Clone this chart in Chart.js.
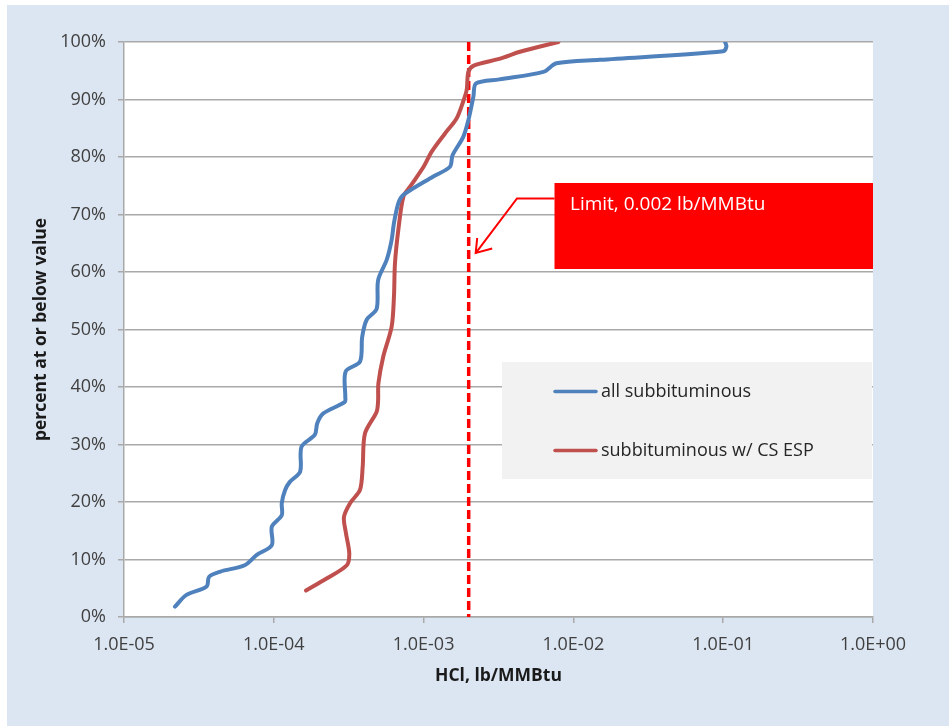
<!DOCTYPE html>
<html>
<head>
<meta charset="utf-8">
<script src="https://cdn.jsdelivr.net/npm/chart.js@4.4.1/dist/chart.umd.min.js"></script>
<style>
  html, body { margin: 0; padding: 0; background: #ffffff; }
  canvas { display: block; }
</style>
</head>
<body>
<canvas id="chart" width="949" height="726"></canvas>
<script>
// Cumulative distribution of HCl emission rates (lb/MMBtu)
const decadeTicks = [1e-5, 1e-4, 1e-3, 1e-2, 1e-1, 1];
const seriesNames = ['all subbituminous', 'subbituminous w/ CS ESP'];

const allSubHcl = [2.19e-5, 2.6e-5, 3.56e-5, 3.7e-5, 4.4e-5, 6.4e-5, 7.7e-5, 9.7e-5, 9.7e-5,
  1.13e-4, 1.13e-4, 1.19e-4, 1.28e-4, 1.5e-4, 1.53e-4, 1.88e-4, 1.95e-4, 2.14e-4, 2.98e-4,
  3.0e-4, 3.02e-4, 3.76e-4, 3.89e-4, 4.17e-4, 4.86e-4, 4.97e-4, 5.67e-4, 6.12e-4, 6.34e-4,
  6.77e-4, 7.33e-4, 1.16e-3, 1.5e-3, 1.56e-3, 1.84e-3, 1.99e-3, 2.15e-3, 2.24e-3, 3.2e-3,
  6.3e-3, 7.7e-3, 1.5e-2, 0.1, 0.105, 0.103];
const allSubPct = [1.8, 3.8, 5.3, 7.0, 7.9, 9.0, 10.8, 12.5, 15.7,
  17.7, 19.8, 22.1, 23.5, 25.3, 29.6, 31.7, 33.7, 35.4, 37.4,
  38.3, 42.7, 44.4, 48.7, 51.7, 53.6, 58.6, 62.1, 65.6, 68.5,
  71.9, 73.4, 76.6, 78.3, 80.3, 83.5, 86.4, 90.5, 92.8, 93.5,
  94.8, 96.3, 96.9, 98.4, 99.2, 100];

const espHcl = [1.64e-4, 2.25e-4, 3.07e-4, 3.19e-4, 3.03e-4, 2.94e-4, 3.23e-4, 3.76e-4, 3.92e-4,
  4.06e-4, 4.86e-4, 4.97e-4, 4.99e-4, 5.38e-4, 6.12e-4, 6.34e-4, 6.44e-4, 6.78e-4, 7.33e-4,
  8.1e-4, 1.0e-3, 1.13e-3, 1.39e-3, 1.66e-3, 1.84e-3, 1.94e-3, 1.99e-3, 2.16e-3, 3.24e-3,
  4.4e-3, 7.94e-3];
const espPct = [4.6, 6.7, 9.0, 11.1, 14.6, 17.4, 19.8, 22.1, 26.1,
  31.9, 35.7, 37.7, 40.6, 45.3, 50.5, 55.7, 61.5, 67.3, 73.1,
  74.8, 78.3, 80.9, 84.1, 86.7, 89.7, 91.7, 94.8, 95.9, 97.1,
  98.3, 100];

const limitHcl = 0.002;
const limitLabel = 'Limit, 0.002 lb/MMBtu';

const FONT = "'Open Sans', 'DejaVu Sans', sans-serif";
const BLUE = '#4f81bd';
const RED = '#c0504d';
const GRID = '#a9a9a9';

function pairs(xs, ys) {
  return xs.map((x, i) => ({ x: x, y: ys[i] }));
}

function sciLabel(v) {
  const e = Math.round(Math.log10(v));
  const sign = e < 0 ? '-' : '+';
  const mag = String(Math.abs(e)).padStart(2, '0');
  return '1.0E' + sign + mag;
}

// page frame, panel and white plot area
const framePlugin = {
  id: 'frame',
  beforeDraw(chart) {
    const { ctx, chartArea: a } = chart;
    ctx.save();
    ctx.fillStyle = '#ffffff';
    ctx.fillRect(0, 0, chart.width, chart.height);
    ctx.fillStyle = '#dce6f2';
    ctx.fillRect(7, 5, chart.width - 7, chart.height - 5);
    ctx.fillStyle = '#ffffff';
    ctx.fillRect(a.left, a.top, a.right - a.left, a.bottom - a.top);
    ctx.restore();
  }
};

// legend panel inside the plot area
const legendPanel = {
  id: 'legendPanel',
  beforeDatasetsDraw(chart) {
    const { ctx } = chart;
    ctx.save();
    ctx.fillStyle = '#f2f2f2';
    ctx.fillRect(502, 362, 370, 117);
    const rows = [391.5, 450.5];
    [0, 1].forEach((i) => {
      const ds = chart.data.datasets[i];
      ctx.strokeStyle = ds.borderColor;
      ctx.lineWidth = 3.5;
      ctx.lineCap = 'round';
      ctx.beginPath();
      ctx.moveTo(555, rows[i]);
      ctx.lineTo(596, rows[i]);
      ctx.stroke();
      ctx.fillStyle = '#262626';
      ctx.font = '18px ' + FONT;
      ctx.textAlign = 'left';
      ctx.textBaseline = 'middle';
      ctx.fillText(ds.label, 601, rows[i]);
    });
    ctx.restore();
  }
};

// red callout pointing at the limit line
const limitCallout = {
  id: 'limitCallout',
  afterDatasetsDraw(chart) {
    const { ctx, chartArea: a, scales } = chart;
    const lx = scales.x.getPixelForValue(limitHcl);
    const tipX = lx + 7;
    const tipY = scales.y.getPixelForValue(63.3);
    const boxL = 554.5, boxT = 183, boxB = 269;
    ctx.save();
    ctx.fillStyle = '#ff0000';
    ctx.fillRect(boxL, boxT, a.right - boxL, boxB - boxT);
    ctx.fillStyle = '#ffffff';
    ctx.font = '19px ' + FONT;
    ctx.textAlign = 'left';
    ctx.textBaseline = 'alphabetic';
    ctx.fillText(limitLabel, 570, 210);
    ctx.strokeStyle = '#ff0000';
    ctx.lineWidth = 2;
    ctx.lineJoin = 'miter';
    ctx.beginPath();
    ctx.moveTo(boxL, 198.5);
    ctx.lineTo(517, 198.5);
    ctx.lineTo(tipX, tipY);
    ctx.stroke();
    ctx.beginPath();
    ctx.moveTo(tipX + 1.5, tipY - 15);
    ctx.lineTo(tipX, tipY);
    ctx.lineTo(tipX + 16.5, tipY - 4.5);
    ctx.stroke();
    ctx.restore();
  }
};

Chart.defaults.font.family = FONT;

new Chart(document.getElementById('chart'), {
  type: 'scatter',
  data: {
    datasets: [
      {
        label: seriesNames[0],
        data: pairs(allSubHcl, allSubPct),
        showLine: true,
        borderColor: BLUE,
        backgroundColor: BLUE,
        borderWidth: 4,
        pointRadius: 0,
        tension: 0.3,
        borderCapStyle: 'round',
        borderJoinStyle: 'round'
      },
      {
        label: seriesNames[1],
        data: pairs(espHcl, espPct),
        showLine: true,
        borderColor: RED,
        backgroundColor: RED,
        borderWidth: 4,
        pointRadius: 0,
        tension: 0.3,
        borderCapStyle: 'round',
        borderJoinStyle: 'round'
      },
      {
        label: 'limit',
        data: [{ x: limitHcl, y: 100 }, { x: limitHcl, y: 0 }],
        showLine: true,
        borderColor: '#ff0000',
        borderWidth: 3.5,
        borderDash: [9, 4],
        pointRadius: 0,
        tension: 0
      }
    ]
  },
  options: {
    responsive: false,
    animation: false,
    devicePixelRatio: 1,
    layout: { padding: { top: 42, right: 76, left: 0, bottom: 0 } },
    plugins: {
      legend: { display: false },
      tooltip: { enabled: false },
      title: { display: false }
    },
    scales: {
      x: {
        type: 'logarithmic',
        min: 1e-5,
        max: 1,
        afterBuildTicks(scale) {
          scale.ticks = decadeTicks.map((v) => ({ value: v, major: true }));
        },
        afterFit(scale) { scale.height = 109; },
        ticks: {
          autoSkip: false,
          maxRotation: 0,
          padding: 11,
          color: '#404040',
          font: { size: 18 },
          callback: (v) => sciLabel(v)
        },
        grid: {
          drawOnChartArea: false,
          drawTicks: true,
          tickLength: 6,
          color: GRID,
          lineWidth: 1.5
        },
        border: { color: GRID, width: 1.5 },
        title: {
          display: true,
          text: 'HCl, lb/MMBtu',
          color: '#1a1a1a',
          font: { size: 17.5, weight: 'bold' },
          padding: { top: 0, bottom: 39 }
        }
      },
      y: {
        min: 0,
        max: 100,
        afterFit(scale) { scale.width = 124; },
        ticks: {
          stepSize: 10,
          padding: 12,
          color: '#404040',
          font: { size: 18 },
          callback: (v) => v + '%'
        },
        grid: {
          color: GRID,
          lineWidth: 1.5,
          tickLength: 6
        },
        border: { color: GRID, width: 1.5 },
        title: {
          display: true,
          text: 'percent at or below value',
          color: '#1a1a1a',
          font: { size: 17.5, weight: 'bold' },
          padding: { top: 31, bottom: 0 }
        }
      }
    }
  },
  plugins: [framePlugin, legendPanel, limitCallout]
});
</script>
</body>
</html>
